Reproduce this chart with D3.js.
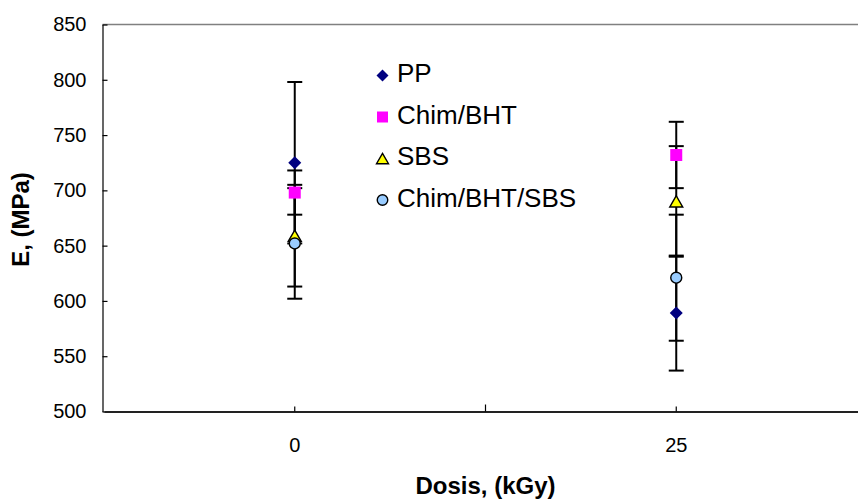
<!DOCTYPE html>
<html>
<head>
<meta charset="utf-8">
<script src="https://cdn.jsdelivr.net/npm/d3@7"></script>
<style>
  html, body { margin: 0; padding: 0; background: #fff; }
  svg { display: block; font-family: "Liberation Sans", Arial, sans-serif; }
</style>
</head>
<body>
<svg id="chart" width="858" height="501"></svg>
<script>
// Dose categories (kGy)
const doses = ["0", "25"];
// Series names, in drawing order
const seriesNames = ["PP", "Chim/BHT", "SBS", "Chim/BHT/SBS"];
// Young's modulus E (MPa) per series, one value per dose
const ppValues = [725, 589];
const chimBhtValues = [698, 732];
const sbsValues = [659, 690];
const chimBhtSbsValues = [652, 621];
// Standard deviations (MPa)
const ppErrors = [73, 52];
const chimBhtErrors = [20, 30];
const sbsErrors = [46, 50];
const chimBhtSbsErrors = [50, 57];
// Y axis ticks
const yTicks = [500, 550, 600, 650, 700, 750, 800, 850];

const series = [
  { name: seriesNames[0], values: ppValues, errors: ppErrors, shape: "diamond", fill: "#000080", stroke: "none" },
  { name: seriesNames[1], values: chimBhtValues, errors: chimBhtErrors, shape: "square", fill: "#FF00FF", stroke: "none" },
  { name: seriesNames[2], values: sbsValues, errors: sbsErrors, shape: "triangle", fill: "#FFFF00", stroke: "#000" },
  { name: seriesNames[3], values: chimBhtSbsValues, errors: chimBhtSbsErrors, shape: "circle", fill: "#99CCFF", stroke: "#000" }
];

const svg = d3.select("#chart");
const plot = { left: 102.5, right: 867, top: 24.5, bottom: 411.5 };

const x = d3.scaleBand().domain(doses).range([plot.left + 1.5, plot.right]);
const y = d3.scaleLinear().domain([500, 850]).range([plot.bottom, plot.top]);
const cx = d => x(d) + x.bandwidth() / 2;

// Marker path builders (centred on 0,0)
function markerPath(shape, s) {
  const p = d3.path();
  if (shape === "diamond") {
    p.moveTo(0, -s / 2); p.lineTo(s / 2, 0); p.lineTo(0, s / 2); p.lineTo(-s / 2, 0); p.closePath();
  } else if (shape === "square") {
    p.rect(-s / 2, -s / 2, s, s);
  } else if (shape === "triangle") {
    const h = s * 0.87;
    p.moveTo(0, -h / 2); p.lineTo(s / 2, h / 2); p.lineTo(-s / 2, h / 2); p.closePath();
  } else {
    p.arc(0, 0, s / 2, 0, 2 * Math.PI);
  }
  return p.toString();
}
const plotSize = { diamond: 13, square: 12, triangle: 13, circle: 11 };
const legendSize = { diamond: 12, square: 11, triangle: 12, circle: 10.5 };

// Top frame line of the plot area
svg.append("line")
  .attr("x1", plot.left).attr("x2", plot.right)
  .attr("y1", plot.top).attr("y2", plot.top)
  .attr("stroke", "#808080").attr("stroke-width", 1.5);

// Y axis
const yAxis = d3.axisLeft(y).tickValues(yTicks).tickSize(0).tickPadding(16);
const gy = svg.append("g").attr("transform", `translate(${plot.left},0)`).call(yAxis);
gy.select(".domain").attr("stroke", "#000").attr("stroke-width", 1.2);
gy.selectAll("text").attr("font-size", 20).attr("fill", "#000")
  .attr("font-family", "Liberation Sans, Arial, sans-serif");
// inside tick marks
gy.selectAll(".tick").append("line")
  .attr("x1", 0).attr("x2", 5).attr("stroke", "#000").attr("stroke-width", 1.2);

// X axis
const xAxis = d3.axisBottom(x).tickSize(0).tickPadding(26);
const gx = svg.append("g").attr("transform", `translate(0,${plot.bottom})`).call(xAxis);
gx.select(".domain").attr("stroke", "#222").attr("stroke-width", 2);
gx.selectAll("text").attr("font-size", 20).attr("fill", "#000")
  .attr("font-family", "Liberation Sans, Arial, sans-serif");
gx.selectAll(".tick").append("line")
  .attr("y1", 0).attr("y2", -5).attr("stroke", "#000").attr("stroke-width", 1.2);
// tick between the two categories
gx.append("line")
  .attr("x1", x(doses[1])).attr("x2", x(doses[1]))
  .attr("y1", 0).attr("y2", -7).attr("stroke", "#000").attr("stroke-width", 1.2);

// Axis titles
svg.append("text")
  .attr("x", 485.5).attr("y", 494)
  .attr("text-anchor", "middle")
  .attr("font-size", 24).attr("font-weight", "bold")
  .text("Dosis, (kGy)");
svg.append("text")
  .attr("transform", "translate(28.5,219.5) rotate(-90)")
  .attr("text-anchor", "middle")
  .attr("font-size", 24).attr("font-weight", "bold")
  .text("E, (MPa)");

// Error bars
const capW = 15;
const eb = svg.append("g").attr("stroke", "#000").attr("stroke-width", 2);
series.forEach(s => {
  doses.forEach((d, i) => {
    const v = s.values[i], e = s.errors[i];
    const px = cx(d);
    eb.append("line").attr("x1", px).attr("x2", px).attr("y1", y(v + e)).attr("y2", y(v - e));
    eb.append("line").attr("x1", px - capW / 2).attr("x2", px + capW / 2).attr("y1", y(v + e)).attr("y2", y(v + e));
    eb.append("line").attr("x1", px - capW / 2).attr("x2", px + capW / 2).attr("y1", y(v - e)).attr("y2", y(v - e));
  });
});

// Markers
series.forEach(s => {
  svg.append("g").selectAll("path")
    .data(doses.map((d, i) => ({ d, v: s.values[i] })))
    .join("path")
    .attr("transform", p => `translate(${cx(p.d)},${y(p.v)})`)
    .attr("d", markerPath(s.shape, plotSize[s.shape]))
    .attr("fill", s.fill)
    .attr("stroke", s.stroke)
    .attr("stroke-width", 1.4);
});

// Legend
const legend = svg.append("g");
const legendX = 382.5, legendTextX = 397, legendY0 = 75.5, legendStep = 41.5;
series.forEach((s, i) => {
  const ly = legendY0 + i * legendStep;
  legend.append("path")
    .attr("transform", `translate(${legendX},${ly})`)
    .attr("d", markerPath(s.shape, legendSize[s.shape]))
    .attr("fill", s.fill).attr("stroke", s.stroke).attr("stroke-width", 1.4);
  legend.append("text")
    .attr("x", legendTextX).attr("y", ly + 6.5)
    .attr("font-size", 26).attr("fill", "#000")
    .text(s.name);
});
</script>
</body>
</html>
